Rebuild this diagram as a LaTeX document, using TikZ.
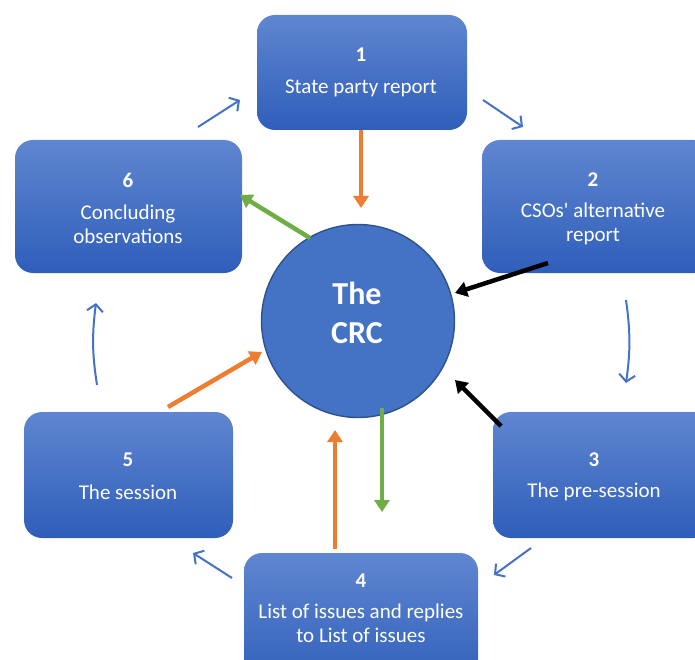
\documentclass[tikz,border=0pt]{standalone}
\usepackage{fontspec}
\setmainfont{Carlito}
\usetikzlibrary{arrows.meta}
\definecolor{boxtop}{HTML}{5F86D0}
\definecolor{boxbot}{HTML}{2F5EBA}
\definecolor{crcfill}{HTML}{4472C4}
\definecolor{crcline}{HTML}{2F528F}
\definecolor{orangeA}{HTML}{ED7D31}
\definecolor{greenA}{HTML}{70AD47}
\definecolor{blueA}{HTML}{4472C4}
\tikzset{
  stagebox/.style={rounded corners=18pt, top color=boxtop, bottom color=boxbot, draw=none},
  lbl/.style={text=white, font=\fontsize{21}{24}\selectfont, align=center, inner sep=0pt},
  num/.style={text=white, font=\fontsize{21}{24}\selectfont\bfseries, inner sep=0pt},
  thick arrow/.style={line width=4.5pt, -{Triangle[length=12pt,width=15pt]}},
  cyc/.style={draw=blueA, line width=2pt, -{Straight Barb[length=7pt,width=16pt]}}
}
\begin{document}
\begin{tikzpicture}[x=1pt,y=-1pt]
\useasboundingbox (0,0) rectangle (695,660);
\clip (0,0) rectangle (695,660);
% boxes
\shade[stagebox] (257,15) rectangle (467,130);
\coordinate (b1) at (362,72);
\shade[stagebox] (482,140) rectangle (712,273);
\coordinate (b2) at (590,206);
\shade[stagebox] (493,412) rectangle (712,538);
\coordinate (b3) at (594,475);
\shade[stagebox] (244,553) rectangle (478,690);
\coordinate (b4) at (361,606);
\shade[stagebox] (24,412) rectangle (233,538);
\coordinate (b5) at (128,475);
\shade[stagebox] (15,140) rectangle (242,273);
\coordinate (b6) at (128,206);
% texts
\node[num] (n1) at (361,55) {1};
\node[lbl] (t1) at (361,88) {State party report};
\node[num] (n2) at (593,180) {2};
\node[lbl] (t2) at (593,224) {CSOs\textquotesingle\ alternative\\report};
\node[num] (n3) at (594,460) {3};
\node[lbl] (t3) at (594,492) {The pre-session};
\node[num] (n4) at (361,581) {4};
\node[lbl] (t4) at (361,623) {List of issues and replies\\to List of issues};
\node[num] (n5) at (128,460) {5};
\node[lbl] (t5) at (128,492) {The session};
\node[num] (n6) at (128,180) {6};
\node[lbl] (t6) at (128,224) {Concluding\\observations};
% circle
\node[circle, minimum size=193pt, fill=crcfill, draw=crcline, line width=1.4pt, inner sep=0pt] (crc) at (358,321) {};
\node[text=white, font=\fontsize{32}{39}\selectfont\bfseries, align=center, inner sep=0pt] (crct) at (357,313) {The\\CRC};
% coordinates for connectors
\coordinate (o1s) at (361,130); \coordinate (o1e) at (361,208);
\coordinate (g1s) at (310,238); \coordinate (g1e) at (240,195);
\coordinate (k1s) at (548,263); \coordinate (k1e) at (455,293);
\coordinate (k2s) at (501,426); \coordinate (k2e) at (455,380);
\coordinate (g2s) at (382,408); \coordinate (g2e) at (382,512);
\coordinate (o2s) at (335,549); \coordinate (o2e) at (335,430);
\coordinate (o3s) at (168,407); \coordinate (o3e) at (262,352);
\draw[thick arrow, orangeA] (o1s) -- (o1e);
\draw[thick arrow, greenA] (g1s) -- (g1e);
\draw[thick arrow, black] (k1s) -- (k1e);
\draw[thick arrow, black] (k2s) -- (k2e);
\draw[thick arrow, greenA] (g2s) -- (g2e);
\draw[thick arrow, orangeA] (o2s) -- (o2e);
\draw[thick arrow, orangeA] (o3s) -- (o3e);
% cycle arrows
\coordinate (c1s) at (483,100); \coordinate (c1e) at (523,127);
\coordinate (c2s) at (626,300); \coordinate (c2e) at (626,383);
\coordinate (c3s) at (531,548); \coordinate (c3e) at (494,575);
\coordinate (c4s) at (232,578); \coordinate (c4e) at (193,553);
\coordinate (c5s) at (97,385); \coordinate (c5e) at (96,303);
\coordinate (c6s) at (198,127); \coordinate (c6e) at (240,100);
\draw[cyc] (c1s) -- (c1e);
\draw[cyc] (c2s) to[bend left=8] (c2e);
\draw[cyc] (c3s) -- (c3e);
\draw[cyc] (c4s) -- (c4e);
\draw[cyc] (c5s) to[bend left=8] (c5e);
\draw[cyc] (c6s) -- (c6e);
\end{tikzpicture}
\end{document}
